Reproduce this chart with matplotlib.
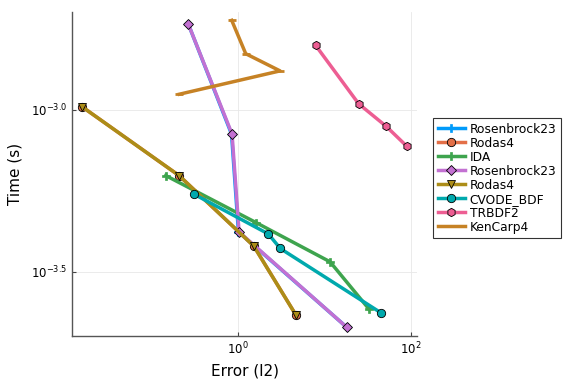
import numpy as np
import matplotlib
matplotlib.use("Agg")
import matplotlib.pyplot as plt
from matplotlib.ticker import FixedLocator, FuncFormatter, NullLocator

plt.rcParams["font.family"] = ["DejaVu Sans"]

# log10 values
ROS1_X = [-0.575, -0.075, 0.005, 1.257]
ROS1_Y = [-2.7355, -3.075, -3.377, -3.671]
RODAS1_X = [-1.807, -0.682, 0.181, 0.671]
RODAS1_Y = [-2.990, -3.203, -3.420, -3.634]
IDA_X = [-0.836, 0.208, 1.064, 1.518]
IDA_Y = [-3.203, -3.348, -3.469, -3.616]
ROS2_X = [-0.575, -0.069, 0.012, 1.257]
ROS2_Y = [-2.7355, -3.075, -3.377, -3.671]
RODAS2_X = [-1.807, -0.682, 0.181, 0.671]
RODAS2_Y = [-2.990, -3.203, -3.420, -3.634]
CVODE_X = [-0.512, 0.350, 0.489, 1.650]
CVODE_Y = [-3.260, -3.383, -3.428, -3.626]
TRBDF2_X = [0.898, 1.395, 1.715, 1.950]
TRBDF2_Y = [-2.8015, -2.9815, -3.0515, -3.112]
KENCARP_X = [-0.073, 0.089, 0.486, -0.679]
KENCARP_Y = [-2.724, -2.827, -2.880, -2.952]

series = [
    ("Rosenbrock23", ROS1_X, ROS1_Y, "#009AFA", "P"),
    ("Rodas4", RODAS1_X, RODAS1_Y, "#E36F47", "o"),
    ("IDA", IDA_X, IDA_Y, "#3EA44E", "P"),
    ("Rosenbrock23", ROS2_X, ROS2_Y, "#C371D2", "D"),
    ("Rodas4", RODAS2_X, RODAS2_Y, "#AC8D18", "v"),
    ("CVODE_BDF", CVODE_X, CVODE_Y, "#00A9AD", "o"),
    ("TRBDF2", TRBDF2_X, TRBDF2_Y, "#ED5E93", "h"),
    ("KenCarp4", KENCARP_X, KENCARP_Y, "#C68225", "_"),
]

fig = plt.figure(figsize=(5.76, 3.84), dpi=100)
ax = fig.add_axes([0.125, 0.125, 0.599, 0.844])

for name, xs, ys, col, mk in series:
    x = 10 ** np.array(xs)
    y = 10 ** np.array(ys)
    if mk == "P":
        ax.plot(x, y, color=col, lw=2.5, marker="P", ms=6, mec=col, mew=0.5, label=name)
    elif mk == "_":
        ax.plot(x, y, color=col, lw=2.5, marker="_", ms=6, mec=col, mew=2, label=name)
    else:
        ms = 5 if mk == "D" else 6
        ax.plot(x, y, color=col, lw=2.5, marker=mk, ms=ms, mec="black", mew=0.6, label=name)

ax.set_xscale("log")
ax.set_yscale("log")
ax.set_xlim(10 ** -1.92, 10 ** 2.07)
ax.set_ylim(10 ** -3.698, 10 ** -2.698)

ax.xaxis.set_major_locator(FixedLocator([1.0, 100.0]))
ax.xaxis.set_minor_locator(NullLocator())
ax.xaxis.set_major_formatter(FuncFormatter(lambda v, p: "$10^{%d}$" % round(np.log10(v))))
ax.yaxis.set_major_locator(FixedLocator([10 ** -3.0, 10 ** -3.5]))
ax.yaxis.set_minor_locator(NullLocator())
ax.yaxis.set_major_formatter(FuncFormatter(lambda v, p: "$10^{%.1f}$" % np.log10(v)))

ax.tick_params(labelsize=8.5, direction="in", length=3, color="#444444")
ax.grid(True, color="#e8e8e8", lw=0.6)
ax.set_axisbelow(True)
for s in ["top", "right"]:
    ax.spines[s].set_visible(False)
for s in ["left", "bottom"]:
    ax.spines[s].set_color("#555555")
    ax.spines[s].set_linewidth(1.0)

ax.set_xlabel("Error (l2)", fontsize=11)
ax.set_ylabel("Time (s)", fontsize=11, labelpad=6)

leg = ax.legend(loc="upper left", bbox_to_anchor=(1.03, 0.69), fontsize=8.8,
                frameon=True, fancybox=False, edgecolor="black",
                handlelength=2.2, borderpad=0.35, labelspacing=0.08, handletextpad=0.4)
leg.get_frame().set_linewidth(0.8)

fig.savefig("out.png", dpi=100, facecolor="white")
